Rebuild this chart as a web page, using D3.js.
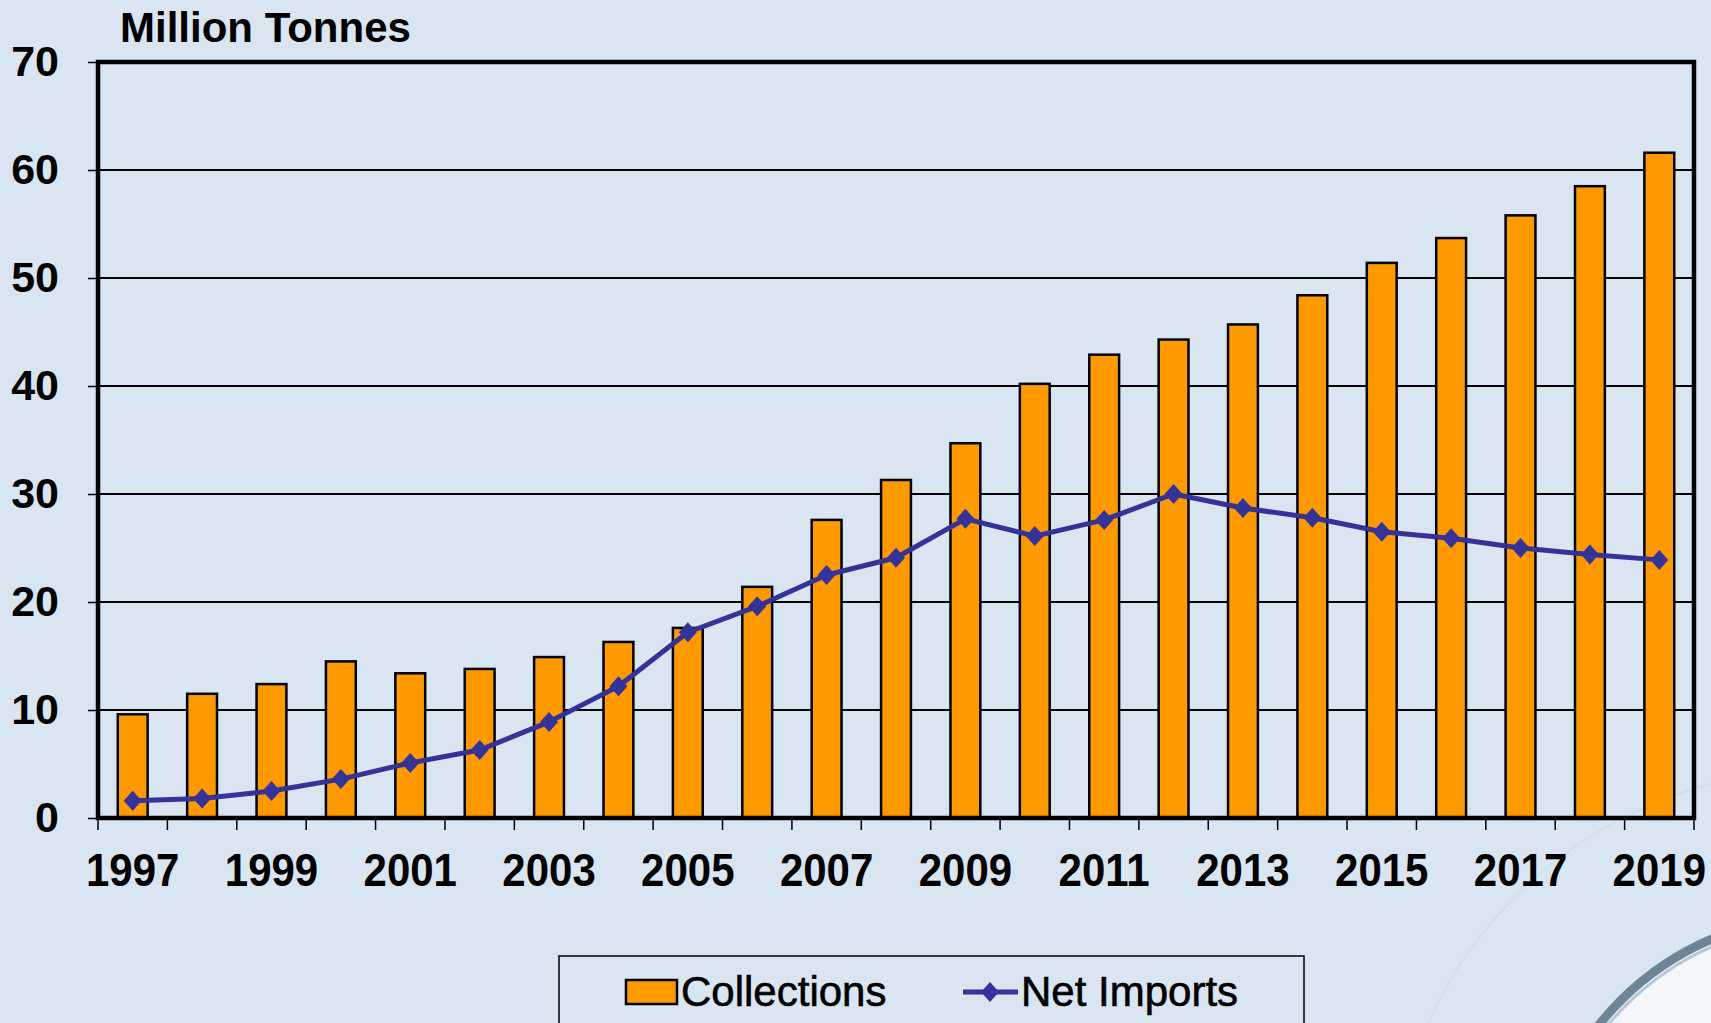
<!DOCTYPE html>
<html>
<head>
<meta charset="utf-8">
<script src="https://cdn.jsdelivr.net/npm/d3@7"></script>
<style>
	html, body { margin: 0; padding: 0; background: #d9e5f0; overflow: hidden; }
	svg { display: block; font-family: "Liberation Sans", Arial, sans-serif; }
</style>
</head>
<body>
<svg id="chart" width="1711" height="1023"></svg>
<script>
'use strict';

// data
const years = d3.range(1997, 2020).map(String);
const collections = [9.6, 11.5, 12.4, 14.5, 13.4, 13.8, 14.9, 16.3, 17.6, 21.4, 27.6, 31.3,
	34.7, 40.2, 42.9, 44.3, 45.7, 48.4, 51.4, 53.7, 55.8, 58.5, 61.6];
const netImports = [1.6, 1.8, 2.5, 3.6, 5.1, 6.3, 8.9, 12.2, 17.2, 19.6, 22.5, 24.1,
	27.7, 26.1, 27.6, 30.0, 28.7, 27.8, 26.5, 25.9, 25.0, 24.4, 23.9];
const yTicks = [0, 10, 20, 30, 40, 50, 60, 70];
const xLabels = years.filter((d, i) => i % 2 === 0);
const seriesNames = ['Collections', 'Net Imports'];

const barColor = '#ff9900';
const lineColor = '#333399';

const svg = d3.select('#chart');
const W = 1711, H = 1023;
const plot = {left: 98, right: 1694, top: 62, bottom: 818};

svg.append('rect').attr('width', W).attr('height', H).attr('fill', '#d9e5f0');

// decorative globe arcs, bottom right
const deco = svg.append('g');
deco.append('circle').attr('cx', 1820).attr('cy', 1200).attr('r', 430)
	.attr('fill', 'none').attr('stroke', '#cfdbe6').attr('stroke-width', 1.2);
deco.append('circle').attr('cx', 1825).attr('cy', 1205).attr('r', 289)
	.attr('fill', '#f3f7fa').attr('stroke', '#6f8596').attr('stroke-width', 9);
deco.append('circle').attr('cx', 1825).attr('cy', 1205).attr('r', 282)
	.attr('fill', 'none').attr('stroke', '#b8c7d3').attr('stroke-width', 3);

// scales
const x = d3.scaleBand().domain(years).range([plot.left, plot.right])
	.paddingInner(0.57).paddingOuter(0.285);
const xCat = d3.scaleBand().domain(years).range([plot.left, plot.right]);
const y = d3.scaleLinear().domain([0, 70]).range([plot.bottom, plot.top]);

// gridlines
svg.append('g')
	.selectAll('line')
	.data(yTicks.filter(d => d > 0 && d < 70))
	.join('line')
	.attr('x1', plot.left).attr('x2', plot.right)
	.attr('y1', d => y(d)).attr('y2', d => y(d))
	.attr('stroke', '#000').attr('stroke-width', 2);

// bars
svg.append('g')
	.selectAll('rect')
	.data(collections)
	.join('rect')
	.attr('x', (d, i) => x(years[i]))
	.attr('y', d => y(d))
	.attr('width', x.bandwidth())
	.attr('height', d => y(0) - y(d))
	.attr('fill', barColor)
	.attr('stroke', '#000')
	.attr('stroke-width', 2.5);

// frame
svg.append('rect')
	.attr('x', plot.left).attr('y', plot.top)
	.attr('width', plot.right - plot.left).attr('height', plot.bottom - plot.top)
	.attr('fill', 'none').attr('stroke', '#000').attr('stroke-width', 4.5);

// y axis
const yAxis = svg.append('g')
	.attr('transform', `translate(${plot.left},0)`)
	.call(d3.axisLeft(y).tickValues(yTicks).tickSize(10).tickPadding(29));
yAxis.select('.domain').remove();
yAxis.selectAll('line').attr('stroke', '#000').attr('stroke-width', 1.5);
yAxis.selectAll('text')
	.attr('font-size', 43).attr('font-weight', 'bold').attr('fill', '#000')
	.attr('font-family', '"Liberation Sans", Arial, sans-serif');

// x axis: ticks at category boundaries, labels every other year
const xTickPos = years.map(d => xCat(d)).concat([xCat.range()[1]]);
svg.append('g')
	.selectAll('line')
	.data(xTickPos)
	.join('line')
	.attr('x1', d => d).attr('x2', d => d)
	.attr('y1', plot.bottom).attr('y2', plot.bottom + 12)
	.attr('stroke', '#000').attr('stroke-width', 1.5);

svg.append('g')
	.selectAll('text')
	.data(xLabels)
	.join('text')
	.attr('transform', d => `translate(${xCat(d) + xCat.bandwidth() / 2},886) scale(1,1.08)`)
	.attr('text-anchor', 'middle')
	.attr('font-size', 42).attr('font-weight', 'bold')
	.text(d => d);

// net imports line
const diamond = 'M0,-10L9,0L0,10L-9,0Z';
const line = d3.line()
	.x((d, i) => xCat(years[i]) + xCat.bandwidth() / 2)
	.y(d => y(d));
svg.append('path')
	.datum(netImports)
	.attr('d', line)
	.attr('fill', 'none')
	.attr('stroke', lineColor)
	.attr('stroke-width', 5)
	.attr('stroke-linejoin', 'round');
svg.append('g')
	.selectAll('path')
	.data(netImports)
	.join('path')
	.attr('transform', (d, i) => `translate(${xCat(years[i]) + xCat.bandwidth() / 2},${y(d)})`)
	.attr('d', diamond)
	.attr('fill', lineColor);

// title
svg.append('text')
	.attr('x', 120).attr('y', 42)
	.attr('font-size', 42).attr('font-weight', 'bold')
	.text('Million Tonnes');

// legend
const lg = svg.append('g');
lg.append('rect')
	.attr('x', 559).attr('y', 956).attr('width', 745).attr('height', 90)
	.attr('fill', '#d9e5f0').attr('stroke', '#000').attr('stroke-width', 1.5);
lg.append('rect')
	.attr('x', 626).attr('y', 980).attr('width', 51).attr('height', 24)
	.attr('fill', barColor).attr('stroke', '#000').attr('stroke-width', 2.5);
lg.append('text')
	.attr('x', 681).attr('y', 1006)
	.attr('font-size', 42)
	.attr('stroke', '#000').attr('stroke-width', 0.6)
	.text(seriesNames[0]);
lg.append('line')
	.attr('x1', 963).attr('x2', 1018).attr('y1', 992).attr('y2', 992)
	.attr('stroke', lineColor).attr('stroke-width', 5);
lg.append('path')
	.attr('transform', 'translate(990,992)')
	.attr('d', diamond)
	.attr('fill', lineColor);
lg.append('text')
	.attr('x', 1021).attr('y', 1006)
	.attr('font-size', 42)
	.attr('stroke', '#000').attr('stroke-width', 0.6)
	.text(seriesNames[1]);
</script>
</body>
</html>
